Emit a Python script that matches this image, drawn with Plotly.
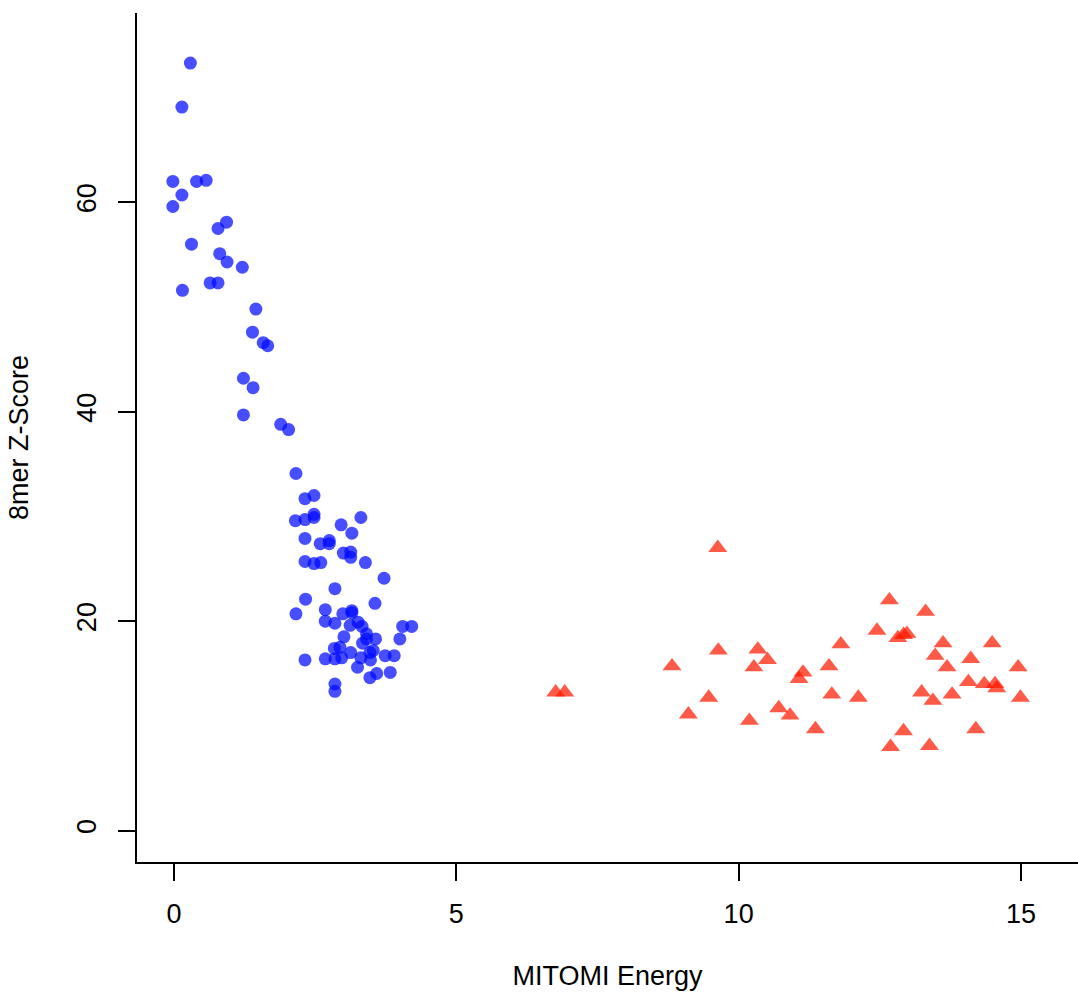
import plotly.graph_objects as go

# Blue group (circles)
blue_x = [0.29, 0.14, -0.02, 0.40, 0.57, 0.14, -0.02, 0.93, 0.78, 0.31, 0.81, 0.94, 1.21, 0.64, 0.78, 0.15,
          1.45, 1.39, 1.58, 1.66, 1.23, 1.40, 1.23, 1.89, 2.03, 2.16, 2.48, 2.32, 2.15, 2.32, 2.48, 2.48,
          3.31, 2.96, 3.15, 2.32, 2.59, 2.75, 2.75, 3.00, 3.13, 3.13, 2.32, 2.48, 2.60, 3.39, 3.72, 2.85,
          2.33, 3.56, 2.16, 2.68, 2.99, 3.15, 3.15, 2.68, 2.85, 3.12, 3.26, 3.33, 4.05, 4.21, 3.41, 3.41,
          3.57, 4.00, 3.01, 3.34, 2.84, 2.94, 3.13, 3.53, 3.47, 3.74, 3.90, 2.32, 2.68, 2.85, 2.97, 3.31,
          3.48, 3.25, 3.83, 3.47, 3.59, 2.85, 2.85]
blue_y = [73.3, 69.1, 62.0, 62.0, 62.1, 60.7, 59.6, 58.1, 57.5, 56.0, 55.1, 54.3, 53.8, 52.3, 52.3, 51.6,
          49.8, 47.6, 46.6, 46.3, 43.2, 42.3, 39.7, 38.8, 38.3, 34.1, 32.0, 31.7, 29.6, 29.7, 30.2, 29.9,
          29.9, 29.2, 28.4, 27.9, 27.4, 27.7, 27.4, 26.5, 26.6, 26.1, 25.7, 25.5, 25.6, 25.6, 24.1, 23.1,
          22.1, 21.7, 20.7, 21.1, 20.7, 20.8, 21.0, 20.0, 19.8, 19.6, 19.9, 19.5, 19.5, 19.5, 18.8, 18.3,
          18.3, 18.3, 18.5, 17.9, 17.4, 17.5, 17.0, 17.2, 17.0, 16.7, 16.7, 16.3, 16.4, 16.4, 16.5, 16.5,
          16.3, 15.6, 15.1, 14.6, 15.0, 14.0, 13.3]

# Red group (triangles)
red_x = [9.63, 6.76, 6.92, 8.82, 9.11, 9.47, 9.64, 10.19, 10.27, 10.34, 10.51, 10.71, 10.91, 11.07, 11.14,
         11.36, 11.60, 11.65, 11.81, 12.12, 12.45, 12.67, 12.69, 12.82, 12.92, 12.98, 12.92, 13.24, 13.31,
         13.38, 13.44, 13.48, 13.62, 13.69, 13.78, 14.07, 14.11, 14.20, 14.35, 14.49, 14.54, 14.57, 14.95, 14.99]
red_y = [27.0, 13.2, 13.2, 15.7, 11.1, 12.7, 17.2, 10.5, 15.6, 17.3, 16.3, 11.7, 11.0, 14.5, 15.1,
         9.7, 15.7, 13.0, 17.8, 12.7, 19.1, 22.0, 8.0, 18.4, 18.7, 18.8, 9.5, 13.2, 20.9,
         8.1, 12.4, 16.7, 17.9, 15.6, 13.0, 14.2, 16.4, 9.7, 14.0, 17.9, 14.0, 13.6, 15.6, 12.7]

x_ticks = [0, 5, 10, 15]
y_ticks = [0, 20, 40, 60]

FONT = "Liberation Sans, Arial, Helvetica, sans-serif"

fig = go.Figure()
fig.add_trace(go.Scatter(
    x=blue_x, y=blue_y, mode="markers",
    marker=dict(symbol="circle", size=13, color="rgba(0,10,255,0.72)", line=dict(width=0)),
    showlegend=False, hoverinfo="skip"))
fig.add_trace(go.Scatter(
    x=red_x, y=red_y, mode="markers",
    marker=dict(symbol="triangle-up", size=16.5, color="rgba(255,25,0,0.72)", line=dict(width=0)),
    showlegend=False, hoverinfo="skip"))

fig.update_layout(
    width=1078, height=997,
    margin=dict(l=137, r=0, t=13, b=135),
    paper_bgcolor="white", plot_bgcolor="white",
    font=dict(family=FONT, size=27, color="black"),
)
fig.update_xaxes(
    range=[-0.655, 16.01], tickvals=x_ticks, ticktext=[str(v) for v in x_ticks],
    showgrid=False, zeroline=False, showline=True, linecolor="black", linewidth=1.5,
    ticks="outside", ticklen=17, tickwidth=1.5, tickcolor="black", ticklabelstandoff=10,
    tickfont=dict(size=27),
    title=dict(text="MITOMI Energy", standoff=38, font=dict(size=27)),
)
fig.update_yaxes(
    range=[-3.0, 78.08], tickvals=y_ticks, ticktext=[str(v) for v in y_ticks],
    showgrid=False, zeroline=False, showline=True, linecolor="black", linewidth=1.5,
    ticks="outside", ticklen=17, tickwidth=1.5, tickcolor="black", tickangle=-90, ticklabelstandoff=11,
    tickfont=dict(size=27),
    title=dict(text="8mer Z-Score", standoff=36, font=dict(size=27)),
)

fig.write_html("out.html")
